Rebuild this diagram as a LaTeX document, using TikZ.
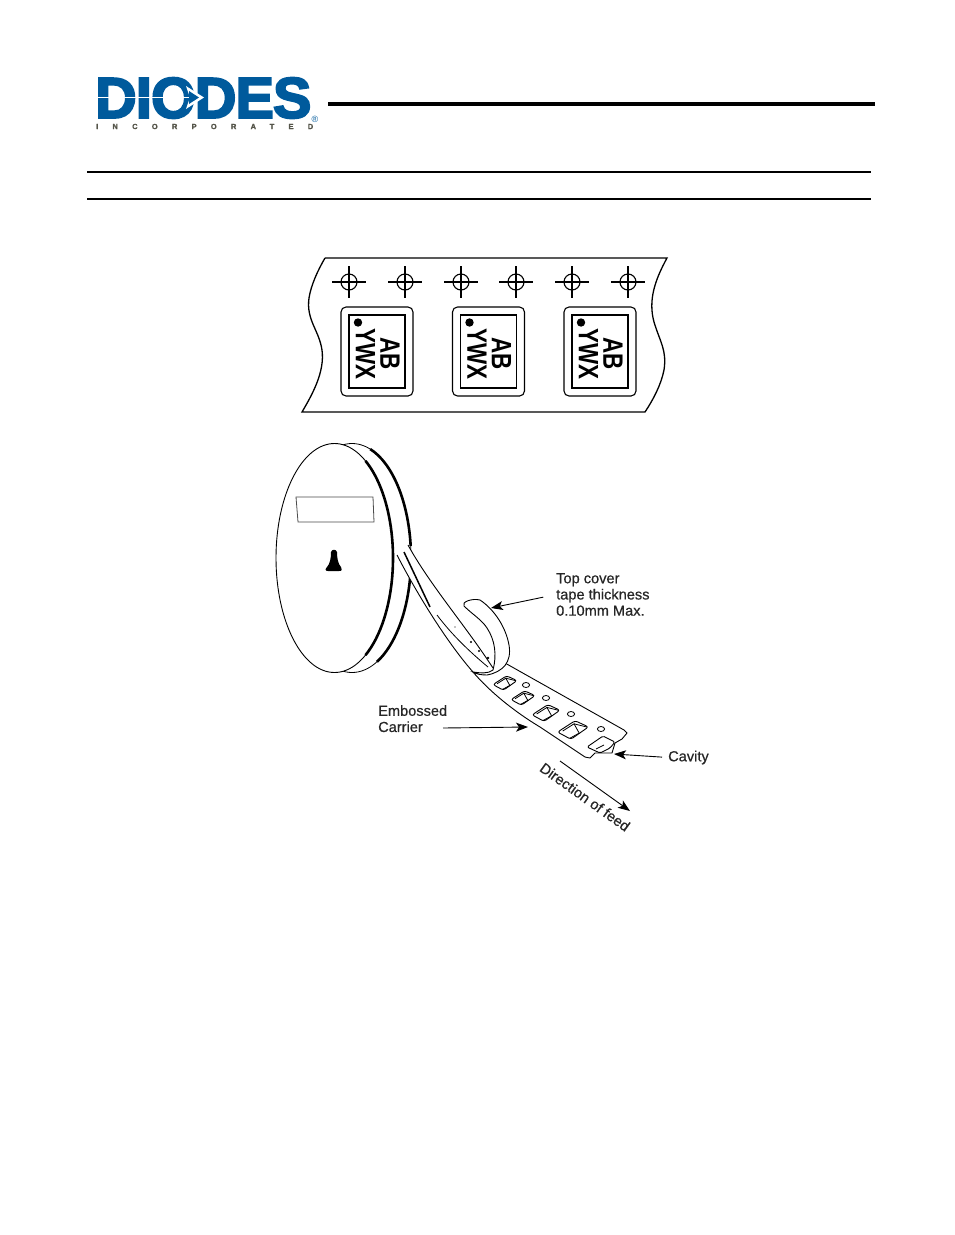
\documentclass[tikz,border=0pt]{standalone}
\usepackage{fontspec}
\setmainfont{Liberation Sans}
\usepackage{xcolor}
\usepackage{tikz}
\usetikzlibrary{
    arrows.meta,
    positioning
}
\definecolor{diodesblue}{HTML}{005A9C}
\definecolor{diodesgray}{HTML}{55554A}
\newfontfamily\logofont[FakeBold=3.5,LetterSpace=-1.5]{Liberation Sans Bold}
\newfontfamily\incfont[FakeBold=1.5,LetterSpace=190]{Liberation Sans Bold}
\newfontfamily\labelfont[FakeBold=.6]{Liberation Sans}
\newfontfamily\markfont{Liberation Sans Bold}
\tikzset{
    rulebar/.style={line width=2.8pt},
    sprocket/.style={draw,circle,minimum size=16pt,inner sep=0,line width=1.1pt},
    markbox/.style={draw,line width=1.1pt,rounded corners=5pt,minimum width=72pt,minimum height=89pt},
    markpad/.style={draw,line width=1.2pt,minimum width=56pt,minimum height=73pt},
    marktext/.style={transform shape,rotate=-90,xscale=.8,inner sep=0,font=\markfont\fontsize{28}{28}\selectfont},
    tapeline/.style={line width=.9pt},
    callout/.style={inner sep=0,align=left,font=\labelfont\fontsize{14.6}{16.2}\selectfont,text=black!85},
    leader/.style={-{Stealth[length=12pt,width=9pt,inset=3pt]},line width=.9pt},
}
\begin{document}
\begin{tikzpicture}[x=1pt,y=-1pt]
       \useasboundingbox (0,0) rectangle (954,1235);
       % header
       \node[inner sep=0,anchor=west,text=diodesblue] (logo) at (95,98) {\logofont\fontsize{57.5}{58}\selectfont DIODES};
       \draw[white,line width=1.8pt] (96,97.5) -- (196,97.5);
       \fill[white] (186,86) -- (204,97.5) -- (186,109) -- (190,97.5) -- cycle;
       \fill[diodesblue] (189,91) -- (199,97.5) -- (189,104) -- cycle;
       \node[inner sep=0,anchor=west,text=diodesgray] (inc) at (96,126.5)
         {\incfont\fontsize{7.5}{8}\selectfont INCORPORATED};
       \node[inner sep=0,text=diodesblue] (reg) at (315,119) {\fontsize{9}{9}\selectfont ®};
       \draw[line width=4pt] (328,104) -- (875,104);
       \draw[rulebar] (87,172) -- (871,172);
       \draw[rulebar] (87,199) -- (871,199);
       % marked tape
       \draw[line width=1.3pt] (325,258) -- (667,258)
         .. controls (655,280) and (648,300) .. (654,322)
         .. controls (660,342) and (667,350) .. (664,370)
         .. controls (661,385) and (653,400) .. (645,412)
         -- (302,412)
         .. controls (312,395) and (325,372) .. (322,350)
         .. controls (319,330) and (306,320) .. (309,298)
         .. controls (311,285) and (318,270) .. (325,258);
       \foreach \n/\x in {1/349,2/405,3/461,4/516,5/572,6/628}{
         \node[sprocket] (hole\n) at (\x,282) {};
         \draw[line width=1.1pt] (\x-17,282) -- (\x+17,282);
         \draw[line width=1.1pt] (\x,266) -- (\x,298);
       }
       \foreach \n/\x in {1/377,2/488.5,3/600}{
         \node[markbox] (part\n) at (\x,351.5) {};
         \node[markpad] (pad\n) at (\x,351.5) {};
         \fill (\x-19,322.5) circle (4.2pt);
         \node[marktext] (ywx\n) at (\x-11.5,354) {YWX};
         \node[marktext] (ab\n) at (\x+13,353.5) {AB};
       }
       % reel
       \draw[line width=.8pt,fill=white] (352,558) ellipse [x radius=59pt,y radius=114.5pt];
       \draw[line width=2.6pt] ([shift={(72:59pt and 114.5pt)}]352,558) arc[start angle=72,end angle=6,x radius=59pt,y radius=114.5pt];
       \draw[line width=2.6pt] ([shift={(-10:59pt and 114.5pt)}]352,558) arc[start angle=-10,end angle=-65,x radius=59pt,y radius=114.5pt];
       \draw[line width=.9pt,fill=white] (334.5,558) ellipse [x radius=58.5pt,y radius=114.5pt];
       \draw[line width=2.6pt] ([shift={(58:58.5pt and 114.5pt)}]334.5,558) arc[start angle=58,end angle=-58,x radius=58.5pt,y radius=114.5pt];
       \draw[line width=.8pt,draw=black!70] (296,497) -- (373,497) -- (374,522) -- (298,522) -- cycle;
       \fill (331,552) .. controls (332,549) and (336,549) .. (337,552)
         .. controls (337,558) and (338,564) .. (341,567)
         .. controls (342,570) and (342,571) .. (339,571)
         -- (328,571) .. controls (325,571) and (325,569) .. (327,567)
         .. controls (330,564) and (331,558) .. (331,552) -- cycle;
       % carrier tape
       \fill[white] (397,555)
         .. controls (415,590) and (445,640) .. (473,672)
         .. controls (490,692) and (515,712) .. (540,727)
         -- (587,758) -- (627,732) -- (505,663) -- (493,668)
         .. controls (465,625) and (430,585) .. (408,545) -- cycle;
       \draw[tapeline] (397,555)
         .. controls (415,590) and (445,640) .. (473,672)
         .. controls (490,692) and (515,712) .. (540,727)
         -- (585,757) -- (590,758) -- (595,753) -- (612,753) -- (615,743) -- (622,739) -- (627,733) -- (624,730)
         -- (505,663);
       \draw[tapeline] (408,545) .. controls (430,585) and (465,625) .. (493,668);
       \draw[line width=1.5pt] (404,552) -- (430,607);
       \draw[line width=.8pt] (437,615) .. controls (452,635) and (470,652) .. (488,667);
       \foreach \x/\y/\s in {455/627/.7,471/642/1.1,479/651/1.1,488/658/1.4}{
         \fill (\x,\y) circle (\s pt);
       }
       % curled cover tape
       \draw[tapeline,fill=white] (464,606) .. controls (461,602) and (472,598) .. (480,600)
         .. controls (495,610) and (506,628) .. (509,645)
         .. controls (512,662) and (503,672) .. (487,675)
         .. controls (481,675) and (476,674) .. (473,672)
         .. controls (480,673) and (488,674) .. (493,670)
         .. controls (497,655) and (495,640) .. (487,628)
         .. controls (482,620) and (472,614) .. (464,606) -- cycle;
       % cavities
       \foreach \n/\x/\y/\s in {1/505/683/.8,2/523/698/.8,3/546/713/.93,4/573/730/1.03}{
         \begin{scope}[shift={(\x,\y)},scale=\s]
           \draw[line width=.9pt,rounded corners=2.5pt] (-15,2) -- (2,-9) -- (15,-3) -- (-2,9) -- cycle;
           \draw[line width=.8pt] (-10,1) -- (1,-6) -- (6,3) -- (-3,8);
           \draw[line width=.8pt] (1,-6) -- (13,-3);
         \end{scope}
       }
       \foreach \n/\x/\y in {1/526/685,2/546/698,3/571/714,4/601/729}{
         \draw[line width=.8pt] (\x,\y) ellipse [x radius=3.6pt,y radius=2.5pt];
       }
       % end cavity
       \draw[line width=.9pt,rounded corners=1.5pt] (587,747) -- (603,736) -- (615,742) -- (610,748) -- (600,753) -- cycle;
       \draw[line width=.8pt] (596,749) -- (604,745);
       % labels
       \node[callout,anchor=north west] (toplabel) at (556,573) {Top cover\\tape thickness\\0.10mm Max.};
       \node[callout,anchor=north west] (carrierlabel) at (378,705) {Embossed\\Carrier};
       \node[callout,anchor=west] (cavitylabel) at (668,757.5) {Cavity};
       \node[callout,rotate=-35.5] (feedlabel) at (585,797) {Direction of feed};
       \coordinate (covertip) at (491,608);
       \coordinate (carrierstart) at (443,728);
       \coordinate (carriertip) at (528,727);
       \coordinate (cavitytip) at (614,754);
       \coordinate (feedstart) at (560,761);
       \coordinate (feedtip) at (630,811);
       \path
        (toplabel.west) edge[leader,shorten <=13pt] (covertip)
        (carrierstart) edge[leader] (carriertip)
        (cavitylabel.west) edge[leader,shorten <=6pt] (cavitytip)
        (feedstart) edge[leader] (feedtip);
\end{tikzpicture}
\end{document}
